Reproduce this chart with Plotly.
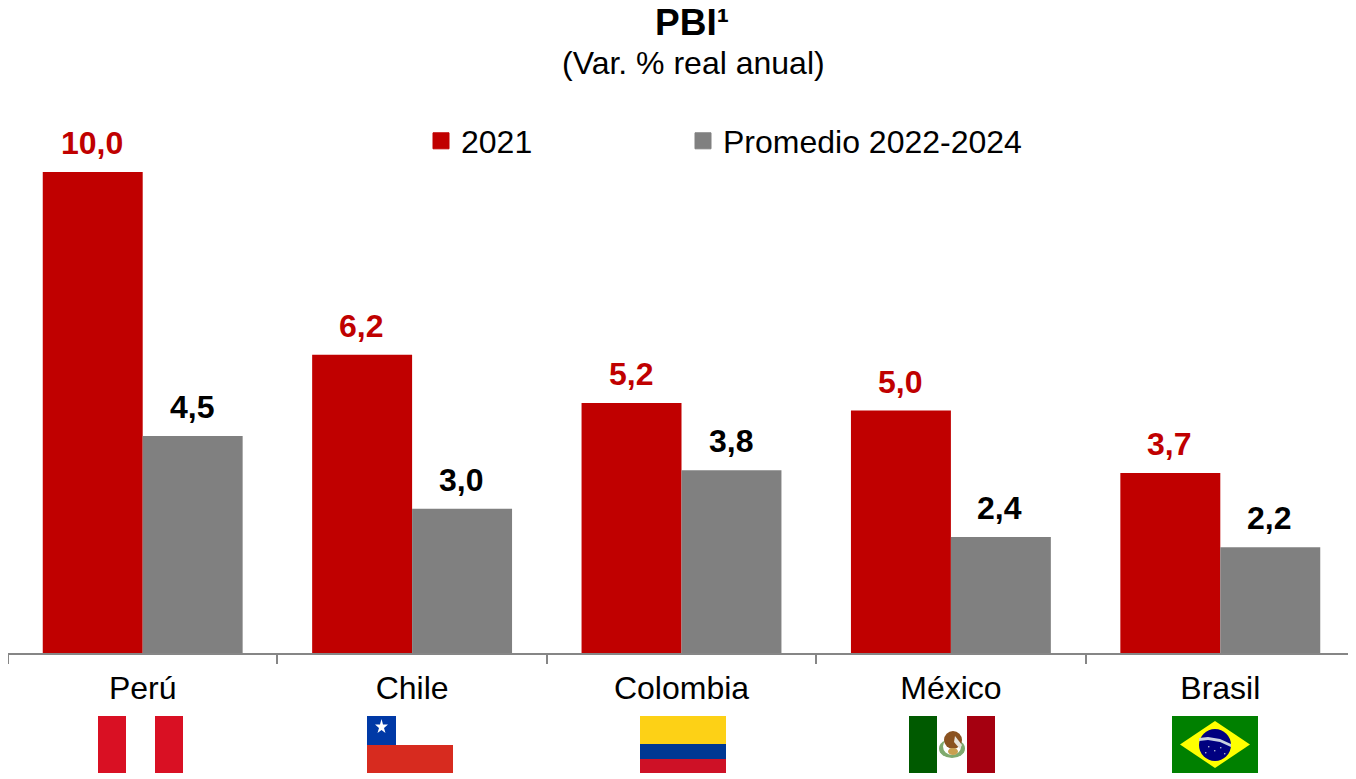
import plotly.graph_objects as go

paises = ["Perú", "Chile", "Colombia", "México", "Brasil"]
pbi_2021 = [10.0, 6.2, 5.2, 5.04, 3.74]
pbi_promedio = [4.51, 3.0, 3.8, 2.41, 2.2]
serie_a = "2021"
serie_b = "Promedio 2022-2024"

ROJO = "#C00000"
GRIS = "#808080"

# La pagina deja 8 px de margen en el body, por eso la figura es mas chica
OFFSET = 8
W, H = 1356 - OFFSET, 779 - OFFSET

# Area del grafico en pixeles de la imagen
AREA_X0, AREA_X1 = 8, 1355
AREA_Y0, AREA_Y1 = 653, 100


def px_x(x):
    return (x - AREA_X0) / (AREA_X1 - AREA_X0)


def px_y(y):
    return (AREA_Y0 - y) / (AREA_Y0 - AREA_Y1)


def rect(x0, y0, x1, y1, color):
    return dict(type="rect", xref="paper", yref="paper", layer="above",
                x0=px_x(x0), x1=px_x(x1), y0=px_y(y0), y1=px_y(y1),
                fillcolor=color, line=dict(width=0))


def oval(x0, y0, x1, y1, color):
    shape = rect(x0, y0, x1, y1, color)
    shape["type"] = "circle"
    return shape


def poly(puntos, color):
    coords = " L".join(f"{px_x(x):.5f},{px_y(y):.5f}" for x, y in puntos)
    return dict(type="path", xref="paper", yref="paper", layer="above",
                path=f"M{coords} Z", fillcolor=color, line=dict(width=0))


# Banderas
banderas = [
    # Peru
    rect(98, 716, 126, 773, "#D91023"),
    rect(155, 716, 183, 773, "#D91023"),
    # Chile
    rect(367, 716, 396, 745, "#0039A6"),
    rect(367, 745, 453, 773, "#D72B1F"),
    poly([(381.5, 719), (383, 724.5), (388, 724.5), (384, 728), (385.5, 733),
          (381.5, 730), (377.5, 733), (379, 728), (375, 724.5), (380, 724.5)], "#FFFFFF"),
    # Colombia
    rect(640, 716, 726, 744, "#FDD116"),
    rect(640, 744, 726, 759, "#003893"),
    rect(640, 759, 726, 773, "#CE1126"),
    # Mexico
    rect(909, 716, 937, 773, "#005A00"),
    rect(967, 716, 995, 773, "#A50010"),
    oval(939, 739, 965, 758, "#7FAA6E"),
    oval(943, 738, 961, 755, "#FFFFFF"),
    oval(944, 731, 962, 749, "#8A5220"),
    poly([(955, 736), (962, 745), (960, 749), (954, 742)], "#E8E4DC"),
    oval(948, 748, 958, 755, "#C9A050"),
    # Brasil
    rect(1172, 716, 1258, 773, "#008000"),
    poly([(1180, 744.5), (1215, 721), (1250, 744.5), (1215, 768)], "#FFFF00"),
    oval(1199, 729, 1231, 761, "#000080"),
    poly([(1199, 738), (1208, 737), (1220, 739), (1231, 744), (1231, 747),
          (1220, 742), (1208, 740), (1199, 741)], "#C8D0E0"),
    oval(1208, 746, 1209.5, 747.5, "#C8D0E0"),
    oval(1214, 750, 1215.5, 751.5, "#C8D0E0"),
    oval(1220, 747, 1221.5, 748.5, "#C8D0E0"),
    oval(1224, 753, 1225.5, 754.5, "#C8D0E0"),
    oval(1205, 752, 1206.5, 753.5, "#C8D0E0"),
]

fig = go.Figure()

fig.add_trace(go.Bar(x=paises, y=pbi_2021, name=serie_a, marker_color=ROJO,
                     marker_line_width=0, showlegend=False, hoverinfo="x+y"))
fig.add_trace(go.Bar(x=paises, y=pbi_promedio, name=serie_b, marker_color=GRIS,
                     marker_line_width=0, showlegend=False, hoverinfo="x+y"))

# Entradas de leyenda con cuadrado mas grande que el de las barras, una leyenda por serie
fig.add_trace(go.Scatter(x=[None], y=[None], mode="markers", name=serie_a, legend="legend",
                         marker=dict(symbol="square", size=16, color=ROJO,
                                     line=dict(width=1, color=ROJO))))
fig.add_trace(go.Scatter(x=[None], y=[None], mode="markers", name=serie_b, legend="legend2",
                         marker=dict(symbol="square", size=16, color=GRIS,
                                     line=dict(width=1, color=GRIS))))

# Etiquetas de valor: van mas separadas de la barra de lo que permite textposition
etiquetas = []
for valores, color, corrimiento in [(pbi_2021, ROJO, -50), (pbi_promedio, "#000000", 50)]:
    for pais, valor in zip(paises, valores):
        etiquetas.append(dict(x=pais, y=valor, xref="x", yref="y", showarrow=False,
                              text=f"<b>{valor:.1f}</b>".replace(".", ","),
                              xshift=corrimiento - 1, yshift=9, yanchor="bottom",
                              font=dict(size=32, color=color)))

fig.update_layout(
    width=W,
    height=H,
    barmode="group",
    bargap=0.258,
    bargroupgap=0,
    plot_bgcolor="white",
    paper_bgcolor="white",
    font=dict(family="Liberation Sans, Arial, sans-serif", size=32, color="#000000"),
    margin=dict(l=AREA_X0 - OFFSET, r=W + OFFSET - AREA_X1, t=AREA_Y1 - OFFSET,
                b=H + OFFSET - AREA_Y0, autoexpand=False),
    legend=dict(x=px_x(421), xanchor="left", y=px_y(141), yanchor="middle",
                bgcolor="rgba(0,0,0,0)", font=dict(size=32), itemsizing="trace"),
    legend2=dict(x=px_x(683), xanchor="left", y=px_y(141), yanchor="middle",
                 bgcolor="rgba(0,0,0,0)", font=dict(size=32), itemsizing="trace"),
    shapes=banderas,
    annotations=etiquetas + [
        dict(text="<b>PBI¹</b>", xref="paper", yref="paper", yanchor="middle",
             x=px_x(692), y=px_y(22), showarrow=False, font=dict(size=37)),
        dict(text="(Var. % real anual)", xref="paper", yref="paper", yanchor="middle",
             x=px_x(693), y=px_y(63), showarrow=False, font=dict(size=32)),
    ],
)

fig.update_xaxes(type="category", categoryorder="array", categoryarray=paises,
                 range=[-0.5, 4.5], showline=True, linecolor="#868686", linewidth=2,
                 ticks="outside", tickson="boundaries", ticklen=9, tickwidth=2,
                 tickcolor="#868686", showgrid=False, tickfont=dict(size=32),
                 ticklabelstandoff=6, zeroline=False, fixedrange=True)
fig.update_yaxes(visible=False, range=[0, 553 / 48.1], showgrid=False,
                 zeroline=False, fixedrange=True)

fig.write_html("out.html")
